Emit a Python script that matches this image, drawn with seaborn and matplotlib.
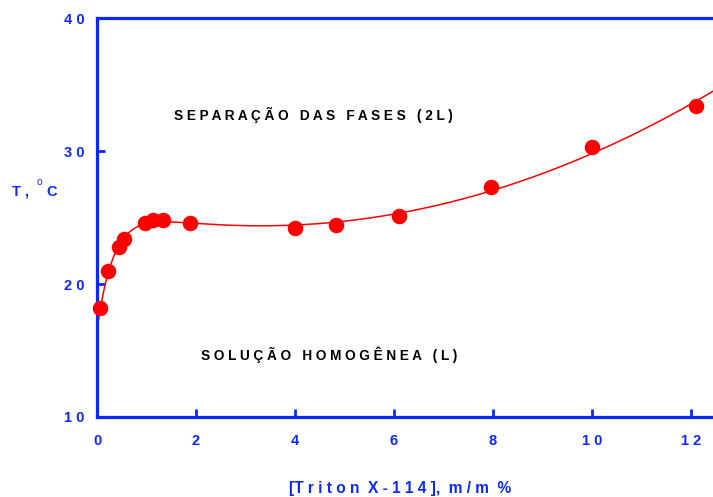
import numpy as np
import pandas as pd
import matplotlib
matplotlib.use("Agg")
import matplotlib.pyplot as plt
import seaborn as sns

# Cloud-point data: Triton X-114 concentration (m/m %) vs temperature (°C)
conc = [0.07, 0.23, 0.45, 0.55, 0.97, 1.13, 1.33, 1.88, 4.0, 4.82, 6.1, 7.95, 10.0, 12.1]
temp = [18.2, 21.0, 22.8, 23.4, 24.6, 24.8, 24.8, 24.6, 24.2, 24.4, 25.1, 27.3, 30.3, 33.4]

x_ticks = [0, 2, 4, 6, 8, 10, 12]
x_tick_labels = ["0", "2", "4", "6", "8", "1 0", "1 2"]
y_ticks = [10, 20, 30, 40]
y_tick_labels = ["1 0", "2 0", "3 0", "4 0"]

BLUE = "#0a28ff"
RED = "#ff0000"

sns.set_theme(style="white")
plt.rcParams["font.family"] = ["Liberation Sans", "DejaVu Sans"]

df = pd.DataFrame({"conc": conc, "temp": temp})

# Smooth trend: quadratic plus a saturating exponential rise, least squares over decay constant
xa = np.asarray(conc)
ya = np.asarray(temp)
best = None
for k in np.linspace(0.05, 2.0, 400):
    A = np.column_stack([np.ones_like(xa), xa, xa ** 2, np.exp(-xa / k)])
    coef, *_ = np.linalg.lstsq(A, ya, rcond=None)
    sse = np.sum((A @ coef - ya) ** 2)
    if best is None or sse < best[0]:
        best = (sse, k, coef)
_, k_best, c_best = best
xs = np.linspace(0.03, 12.6, 600)
ys = c_best[0] + c_best[1] * xs + c_best[2] * xs ** 2 + c_best[3] * np.exp(-xs / k_best)
curve = pd.DataFrame({"conc": xs, "temp": ys})

fig = plt.figure(figsize=(7.13, 4.97), dpi=100)
ax = fig.add_axes([97 / 713, 80 / 497, 616 / 713, 399 / 497])

sns.lineplot(data=curve, x="conc", y="temp", ax=ax, color=RED, linewidth=1.1,
             sort=False, zorder=2, clip_on=True)
sns.scatterplot(data=df, x="conc", y="temp", ax=ax, color=RED, s=125,
                edgecolor=RED, linewidth=0, zorder=3, clip_on=False)

ax.set_xlim(0, 616 / 49.5)
ax.set_ylim(10, 40)
ax.set_xticks(x_ticks)
ax.set_xticklabels(x_tick_labels)
ax.set_yticks(y_ticks)
ax.set_yticklabels(y_tick_labels)
ax.set_xlabel("")
ax.set_ylabel("")

for side in ["left", "bottom", "top"]:
    ax.spines[side].set_visible(True)
    ax.spines[side].set_color(BLUE)
    ax.spines[side].set_linewidth(2.3)
ax.spines["right"].set_visible(False)

ax.tick_params(axis="both", direction="in", length=6, width=2.0, color=BLUE,
               labelcolor=BLUE, labelsize=10.5)
ax.tick_params(axis="x", pad=12, bottom=True, top=False)
ax.tick_params(axis="y", pad=9, left=True, right=False)
for lab in ax.get_xticklabels() + ax.get_yticklabels():
    lab.set_fontweight("bold")

# Region labels
ax.text(4.37, 32.7, "S E P A R A Ç Ã O   D A S   F A S E S   ( 2 L )",
        ha="center", va="center", fontsize=9.8, fontweight="bold", color="black")
ax.text(4.69, 14.66, "S O L U Ç Ã O   H O M O G Ê N E A   ( L )",
        ha="center", va="center", fontsize=9.8, fontweight="bold", color="black")

# Axis titles
fig.text(400 / 713, 1 - 481 / 497, "[T r i t o n  X - 1 1 4 ],  m / m  %",
         ha="center", va="top", fontsize=11.2, fontweight="bold", color=BLUE)
fig.text(12 / 713, 1 - 192 / 497, "T ,", ha="left", va="center",
         fontsize=10.5, fontweight="bold", color=BLUE)
fig.text(37 / 713, 1 - 182 / 497, "o", ha="left", va="center",
         fontsize=7.5, color=BLUE)
fig.text(46 / 713, 1 - 192 / 497, "C", ha="left", va="center",
         fontsize=10.5, fontweight="bold", color=BLUE)

fig.savefig("out.png", dpi=100, facecolor="white")
